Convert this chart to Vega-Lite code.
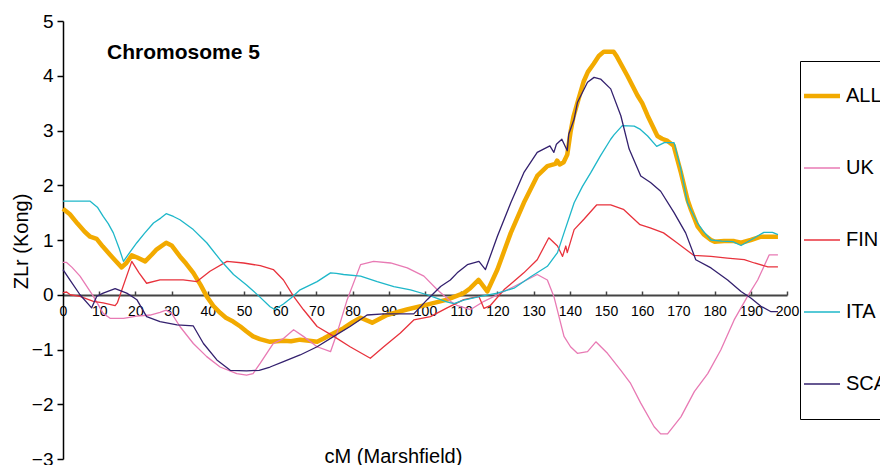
{
  "$schema": "https://vega.github.io/schema/vega-lite/v6.json",
  "autosize": "none",
  "width": 724,
  "height": 438,
  "padding": {"left": 63, "top": 21, "right": 93, "bottom": 6},
  "background": "white",
  "config": {"view": {"stroke": null}, "font": "Liberation Sans"},
  "title": {"text": "Chromosome 5", "anchor": "start", "frame": "group", "fontSize": 21, "fontWeight": "bold", "font": "Liberation Sans", "color": "black", "baseline": "alphabetic", "offset": 0, "dx": 44, "dy": 68},
  "data": {"values": [
    {"s":"ALL","x":0,"y":1.57},{"s":"ALL","x":1.9,"y":1.47},{"s":"ALL","x":4,"y":1.3},{"s":"ALL","x":6,"y":1.15},{"s":"ALL","x":7.5,"y":1.06},{"s":"ALL","x":9.3,"y":1.02},{"s":"ALL","x":11,"y":0.88},{"s":"ALL","x":13,"y":0.73},{"s":"ALL","x":14.5,"y":0.62},{"s":"ALL","x":16.2,"y":0.5},{"s":"ALL","x":17.5,"y":0.58},{"s":"ALL","x":19,"y":0.72},{"s":"ALL","x":20.5,"y":0.68},{"s":"ALL","x":22.7,"y":0.61},{"s":"ALL","x":24.5,"y":0.73},{"s":"ALL","x":25.9,"y":0.83},{"s":"ALL","x":28.5,"y":0.95},{"s":"ALL","x":30,"y":0.9},{"s":"ALL","x":32.3,"y":0.7},{"s":"ALL","x":34,"y":0.57},{"s":"ALL","x":36,"y":0.4},{"s":"ALL","x":38,"y":0.18},{"s":"ALL","x":39.7,"y":-0.03},{"s":"ALL","x":41.5,"y":-0.2},{"s":"ALL","x":43.4,"y":-0.33},{"s":"ALL","x":45,"y":-0.42},{"s":"ALL","x":47,"y":-0.49},{"s":"ALL","x":49,"y":-0.58},{"s":"ALL","x":50.7,"y":-0.67},{"s":"ALL","x":52.5,"y":-0.76},{"s":"ALL","x":54.4,"y":-0.81},{"s":"ALL","x":57.2,"y":-0.86},{"s":"ALL","x":60.9,"y":-0.84},{"s":"ALL","x":63,"y":-0.85},{"s":"ALL","x":65.5,"y":-0.82},{"s":"ALL","x":68,"y":-0.84},{"s":"ALL","x":70.2,"y":-0.86},{"s":"ALL","x":72,"y":-0.8},{"s":"ALL","x":73.9,"y":-0.73},{"s":"ALL","x":77.5,"y":-0.61},{"s":"ALL","x":80,"y":-0.5},{"s":"ALL","x":82.2,"y":-0.42},{"s":"ALL","x":85.4,"y":-0.51},{"s":"ALL","x":89.5,"y":-0.37},{"s":"ALL","x":95,"y":-0.27},{"s":"ALL","x":100.6,"y":-0.18},{"s":"ALL","x":106.1,"y":-0.09},{"s":"ALL","x":110.7,"y":0.03},{"s":"ALL","x":112.5,"y":0.12},{"s":"ALL","x":114.8,"y":0.27},{"s":"ALL","x":117.2,"y":0.06},{"s":"ALL","x":120,"y":0.46},{"s":"ALL","x":123.7,"y":1.13},{"s":"ALL","x":127.3,"y":1.68},{"s":"ALL","x":131,"y":2.17},{"s":"ALL","x":133.8,"y":2.35},{"s":"ALL","x":136,"y":2.39},{"s":"ALL","x":136.5,"y":2.45},{"s":"ALL","x":137.2,"y":2.38},{"s":"ALL","x":138.3,"y":2.42},{"s":"ALL","x":139.3,"y":2.56},{"s":"ALL","x":140.2,"y":2.97},{"s":"ALL","x":141,"y":3.25},{"s":"ALL","x":142.3,"y":3.55},{"s":"ALL","x":143.8,"y":3.89},{"s":"ALL","x":145,"y":4.07},{"s":"ALL","x":146.6,"y":4.22},{"s":"ALL","x":148,"y":4.36},{"s":"ALL","x":149.4,"y":4.44},{"s":"ALL","x":152.1,"y":4.44},{"s":"ALL","x":153,"y":4.35},{"s":"ALL","x":155.9,"y":4.0},{"s":"ALL","x":158.7,"y":3.64},{"s":"ALL","x":160,"y":3.5},{"s":"ALL","x":161.5,"y":3.27},{"s":"ALL","x":164.2,"y":2.9},{"s":"ALL","x":165.5,"y":2.85},{"s":"ALL","x":167,"y":2.81},{"s":"ALL","x":168.7,"y":2.72},{"s":"ALL","x":170.7,"y":2.23},{"s":"ALL","x":172.5,"y":1.74},{"s":"ALL","x":173.5,"y":1.55},{"s":"ALL","x":175.3,"y":1.25},{"s":"ALL","x":177,"y":1.1},{"s":"ALL","x":179,"y":1.0},{"s":"ALL","x":180,"y":0.97},{"s":"ALL","x":182.6,"y":0.98},{"s":"ALL","x":185.4,"y":0.98},{"s":"ALL","x":187.3,"y":0.95},{"s":"ALL","x":190,"y":1.0},{"s":"ALL","x":192.8,"y":1.06},{"s":"ALL","x":197.5,"y":1.06},

    {"s":"UK","x":0,"y":0.59},{"s":"UK","x":1,"y":0.59},{"s":"UK","x":2.5,"y":0.5},{"s":"UK","x":4.7,"y":0.34},{"s":"UK","x":8.4,"y":-0.03},{"s":"UK","x":11.1,"y":-0.34},{"s":"UK","x":13,"y":-0.43},{"s":"UK","x":16.7,"y":-0.43},{"s":"UK","x":20.4,"y":-0.39},{"s":"UK","x":24.1,"y":-0.37},{"s":"UK","x":26.8,"y":-0.32},{"s":"UK","x":28.5,"y":-0.28},{"s":"UK","x":30,"y":-0.34},{"s":"UK","x":32.3,"y":-0.58},{"s":"UK","x":36,"y":-0.89},{"s":"UK","x":39.7,"y":-1.13},{"s":"UK","x":43.4,"y":-1.32},{"s":"UK","x":48,"y":-1.44},{"s":"UK","x":50.7,"y":-1.47},{"s":"UK","x":52.5,"y":-1.44},{"s":"UK","x":54.5,"y":-1.25},{"s":"UK","x":58.1,"y":-0.89},{"s":"UK","x":60.9,"y":-0.8},{"s":"UK","x":63.7,"y":-0.64},{"s":"UK","x":66.4,"y":-0.76},{"s":"UK","x":70.2,"y":-0.95},{"s":"UK","x":73.9,"y":-1.04},{"s":"UK","x":75.7,"y":-0.7},{"s":"UK","x":78.5,"y":-0.09},{"s":"UK","x":82.2,"y":0.55},{"s":"UK","x":85.8,"y":0.61},{"s":"UK","x":90.5,"y":0.58},{"s":"UK","x":95.1,"y":0.49},{"s":"UK","x":99.7,"y":0.34},{"s":"UK","x":103.4,"y":0.09},{"s":"UK","x":107,"y":-0.12},{"s":"UK","x":109,"y":-0.2},{"s":"UK","x":112.6,"y":-0.27},{"s":"UK","x":116.3,"y":-0.12},{"s":"UK","x":120,"y":0.0},{"s":"UK","x":124.6,"y":0.15},{"s":"UK","x":131,"y":0.37},{"s":"UK","x":133.8,"y":0.27},{"s":"UK","x":135.6,"y":-0.03},{"s":"UK","x":138.4,"y":-0.76},{"s":"UK","x":140.2,"y":-0.95},{"s":"UK","x":142.1,"y":-1.07},{"s":"UK","x":144.9,"y":-1.04},{"s":"UK","x":147.2,"y":-0.86},{"s":"UK","x":150.4,"y":-1.07},{"s":"UK","x":154.1,"y":-1.38},{"s":"UK","x":156.8,"y":-1.62},{"s":"UK","x":159.6,"y":-1.98},{"s":"UK","x":163.3,"y":-2.41},{"s":"UK","x":165.1,"y":-2.54},{"s":"UK","x":167,"y":-2.54},{"s":"UK","x":170.7,"y":-2.23},{"s":"UK","x":174.4,"y":-1.77},{"s":"UK","x":178.1,"y":-1.44},{"s":"UK","x":181.7,"y":-1.01},{"s":"UK","x":185.4,"y":-0.46},{"s":"UK","x":189.1,"y":-0.03},{"s":"UK","x":191.9,"y":0.27},{"s":"UK","x":195.1,"y":0.73},{"s":"UK","x":197.5,"y":0.73},

    {"s":"FIN","x":0,"y":0.04},{"s":"FIN","x":1,"y":0.05},{"s":"FIN","x":2,"y":0.0},{"s":"FIN","x":4.7,"y":-0.03},{"s":"FIN","x":8.4,"y":-0.12},{"s":"FIN","x":11.1,"y":-0.15},{"s":"FIN","x":14.4,"y":-0.2},{"s":"FIN","x":15,"y":-0.15},{"s":"FIN","x":19,"y":0.61},{"s":"FIN","x":21,"y":0.4},{"s":"FIN","x":23.1,"y":0.21},{"s":"FIN","x":26.8,"y":0.27},{"s":"FIN","x":33.2,"y":0.27},{"s":"FIN","x":37,"y":0.24},{"s":"FIN","x":40.6,"y":0.43},{"s":"FIN","x":45.3,"y":0.61},{"s":"FIN","x":49.9,"y":0.58},{"s":"FIN","x":54.5,"y":0.53},{"s":"FIN","x":58.1,"y":0.46},{"s":"FIN","x":60.9,"y":0.27},{"s":"FIN","x":63.7,"y":-0.03},{"s":"FIN","x":66.4,"y":-0.27},{"s":"FIN","x":70.2,"y":-0.58},{"s":"FIN","x":74.8,"y":-0.76},{"s":"FIN","x":79.3,"y":-0.95},{"s":"FIN","x":84.9,"y":-1.16},{"s":"FIN","x":88.6,"y":-0.95},{"s":"FIN","x":93.2,"y":-0.7},{"s":"FIN","x":96.9,"y":-0.46},{"s":"FIN","x":101.5,"y":-0.4},{"s":"FIN","x":106.1,"y":-0.24},{"s":"FIN","x":110.7,"y":-0.09},{"s":"FIN","x":114.9,"y":-0.03},{"s":"FIN","x":116.3,"y":-0.25},{"s":"FIN","x":118,"y":-0.2},{"s":"FIN","x":121.8,"y":0.09},{"s":"FIN","x":127.3,"y":0.4},{"s":"FIN","x":131,"y":0.64},{"s":"FIN","x":134.2,"y":1.04},{"s":"FIN","x":136.6,"y":0.89},{"s":"FIN","x":138,"y":0.7},{"s":"FIN","x":138.9,"y":0.89},{"s":"FIN","x":139.3,"y":0.77},{"s":"FIN","x":141.2,"y":1.19},{"s":"FIN","x":143.9,"y":1.38},{"s":"FIN","x":147.4,"y":1.64},{"s":"FIN","x":151.3,"y":1.64},{"s":"FIN","x":154.8,"y":1.56},{"s":"FIN","x":159.4,"y":1.28},{"s":"FIN","x":162.2,"y":1.22},{"s":"FIN","x":165.9,"y":1.13},{"s":"FIN","x":169.6,"y":0.95},{"s":"FIN","x":174.2,"y":0.72},{"s":"FIN","x":179,"y":0.7},{"s":"FIN","x":183.5,"y":0.67},{"s":"FIN","x":188.2,"y":0.64},{"s":"FIN","x":191,"y":0.58},{"s":"FIN","x":194.7,"y":0.51},{"s":"FIN","x":197.5,"y":0.51},

    {"s":"ITA","x":0,"y":1.71},{"s":"ITA","x":7.5,"y":1.71},{"s":"ITA","x":9.5,"y":1.6},{"s":"ITA","x":11.1,"y":1.43},{"s":"ITA","x":12.5,"y":1.3},{"s":"ITA","x":13.9,"y":1.13},{"s":"ITA","x":15.5,"y":0.85},{"s":"ITA","x":16.7,"y":0.61},{"s":"ITA","x":18.5,"y":0.78},{"s":"ITA","x":20.4,"y":0.95},{"s":"ITA","x":22.5,"y":1.12},{"s":"ITA","x":25,"y":1.31},{"s":"ITA","x":27,"y":1.4},{"s":"ITA","x":28.5,"y":1.48},{"s":"ITA","x":30.5,"y":1.43},{"s":"ITA","x":32.3,"y":1.37},{"s":"ITA","x":36,"y":1.19},{"s":"ITA","x":39.7,"y":0.95},{"s":"ITA","x":43.4,"y":0.64},{"s":"ITA","x":47.1,"y":0.37},{"s":"ITA","x":50.7,"y":0.18},{"s":"ITA","x":54.2,"y":-0.03},{"s":"ITA","x":57.2,"y":-0.22},{"s":"ITA","x":58.5,"y":-0.27},{"s":"ITA","x":60.9,"y":-0.17},{"s":"ITA","x":63,"y":-0.06},{"s":"ITA","x":65.5,"y":0.09},{"s":"ITA","x":70.2,"y":0.24},{"s":"ITA","x":73.9,"y":0.4},{"s":"ITA","x":75.5,"y":0.39},{"s":"ITA","x":77.5,"y":0.37},{"s":"ITA","x":82.2,"y":0.34},{"s":"ITA","x":86.8,"y":0.24},{"s":"ITA","x":91.4,"y":0.15},{"s":"ITA","x":96,"y":0.09},{"s":"ITA","x":100.6,"y":0.0},{"s":"ITA","x":104.3,"y":-0.09},{"s":"ITA","x":106,"y":-0.13},{"s":"ITA","x":108,"y":-0.16},{"s":"ITA","x":110.7,"y":-0.1},{"s":"ITA","x":115.3,"y":-0.03},{"s":"ITA","x":120,"y":0.03},{"s":"ITA","x":124.6,"y":0.12},{"s":"ITA","x":129.2,"y":0.33},{"s":"ITA","x":133.8,"y":0.52},{"s":"ITA","x":136.6,"y":0.77},{"s":"ITA","x":138.4,"y":1.13},{"s":"ITA","x":141.2,"y":1.68},{"s":"ITA","x":143.5,"y":1.98},{"s":"ITA","x":145.8,"y":2.23},{"s":"ITA","x":148.5,"y":2.54},{"s":"ITA","x":151.3,"y":2.84},{"s":"ITA","x":152.2,"y":2.92},{"s":"ITA","x":154.5,"y":3.09},{"s":"ITA","x":157.8,"y":3.08},{"s":"ITA","x":159.5,"y":3.02},{"s":"ITA","x":161.5,"y":2.9},{"s":"ITA","x":164,"y":2.71},{"s":"ITA","x":166.1,"y":2.78},{"s":"ITA","x":168.8,"y":2.78},{"s":"ITA","x":170.7,"y":2.29},{"s":"ITA","x":172.5,"y":1.68},{"s":"ITA","x":175.3,"y":1.31},{"s":"ITA","x":177,"y":1.15},{"s":"ITA","x":179,"y":1.0},{"s":"ITA","x":182,"y":0.98},{"s":"ITA","x":185,"y":0.97},{"s":"ITA","x":187.3,"y":0.9},{"s":"ITA","x":190,"y":1.0},{"s":"ITA","x":193.6,"y":1.14},{"s":"ITA","x":196,"y":1.14},{"s":"ITA","x":197.5,"y":1.1},

    {"s":"SCA","x":0,"y":0.46},{"s":"SCA","x":1.9,"y":0.27},{"s":"SCA","x":4.7,"y":0.0},{"s":"SCA","x":7.9,"y":-0.24},{"s":"SCA","x":9.3,"y":-0.03},{"s":"SCA","x":11.1,"y":0.03},{"s":"SCA","x":14.4,"y":0.11},{"s":"SCA","x":17.6,"y":0.03},{"s":"SCA","x":19.5,"y":-0.05},{"s":"SCA","x":20.4,"y":-0.09},{"s":"SCA","x":23.1,"y":-0.4},{"s":"SCA","x":26.8,"y":-0.49},{"s":"SCA","x":31.5,"y":-0.55},{"s":"SCA","x":36,"y":-0.57},{"s":"SCA","x":38.8,"y":-0.89},{"s":"SCA","x":42.5,"y":-1.19},{"s":"SCA","x":46.2,"y":-1.38},{"s":"SCA","x":50.7,"y":-1.39},{"s":"SCA","x":54.2,"y":-1.38},{"s":"SCA","x":57.2,"y":-1.32},{"s":"SCA","x":60.9,"y":-1.22},{"s":"SCA","x":65.5,"y":-1.1},{"s":"SCA","x":70.2,"y":-0.95},{"s":"SCA","x":74.8,"y":-0.76},{"s":"SCA","x":79.3,"y":-0.58},{"s":"SCA","x":84,"y":-0.37},{"s":"SCA","x":88.6,"y":-0.35},{"s":"SCA","x":96.9,"y":-0.35},{"s":"SCA","x":100.6,"y":-0.09},{"s":"SCA","x":104.3,"y":0.15},{"s":"SCA","x":107,"y":0.27},{"s":"SCA","x":108.9,"y":0.4},{"s":"SCA","x":111.7,"y":0.55},{"s":"SCA","x":114.9,"y":0.61},{"s":"SCA","x":116.7,"y":0.46},{"s":"SCA","x":120,"y":1.07},{"s":"SCA","x":123.7,"y":1.68},{"s":"SCA","x":127.3,"y":2.23},{"s":"SCA","x":131,"y":2.6},{"s":"SCA","x":134.5,"y":2.72},{"s":"SCA","x":135.6,"y":2.6},{"s":"SCA","x":136.3,"y":2.75},{"s":"SCA","x":137.8,"y":2.84},{"s":"SCA","x":139.3,"y":2.63},{"s":"SCA","x":139.7,"y":2.93},{"s":"SCA","x":141.2,"y":3.21},{"s":"SCA","x":142.1,"y":3.51},{"s":"SCA","x":144.9,"y":3.88},{"s":"SCA","x":146.7,"y":3.97},{"s":"SCA","x":148.5,"y":3.94},{"s":"SCA","x":151.3,"y":3.76},{"s":"SCA","x":154.1,"y":3.27},{"s":"SCA","x":156.4,"y":2.66},{"s":"SCA","x":159.6,"y":2.17},{"s":"SCA","x":162.3,"y":2.05},{"s":"SCA","x":165.1,"y":1.89},{"s":"SCA","x":168.8,"y":1.5},{"s":"SCA","x":172,"y":1.13},{"s":"SCA","x":174.8,"y":0.64},{"s":"SCA","x":179,"y":0.49},{"s":"SCA","x":183.6,"y":0.27},{"s":"SCA","x":187.3,"y":0.06},{"s":"SCA","x":190,"y":-0.06},{"s":"SCA","x":192.8,"y":-0.21},{"s":"SCA","x":195.6,"y":-0.31},{"s":"SCA","x":197.5,"y":-0.31}
  ]},
  "encoding": {
    "x": {"field": "x", "type": "quantitative",
      "scale": {"domain": [0, 200], "nice": false},
      "axis": {"values": [0,10,20,30,40,50,60,70,80,90,100,110,120,130,140,150,160,170,180,190,200],
        "offset": -164, "grid": false, "domainColor": "#444", "domainWidth": 2, "tickColor": "#444", "tickWidth": 1.5, "tickSize": -4,
        "labelPadding": 13, "labelFontSize": 14, "labelColor": "black", "labelFont": "Liberation Sans", "labelFlush": false, "labelOverlap": false,
        "title": "cM (Marshfield)", "titleFontSize": 20, "titleFontWeight": "normal", "titleColor": "black", "titleFont": "Liberation Sans",
        "titleX": 330, "titleY": 167, "titleBaseline": "alphabetic"}},
    "y": {"field": "y", "type": "quantitative",
      "scale": {"domain": [-3, 5], "nice": false, "zero": false},
      "axis": {"values": [-3,-2,-1,0,1,2,3,4,5], "grid": false, "domainColor": "black", "domainWidth": 1.5, "tickColor": "black", "tickWidth": 1.5, "tickSize": 6,
        "labelPadding": 4, "labelFontSize": 19, "labelColor": "black", "labelFont": "Liberation Sans",
        "title": "ZLr (Kong)", "titleFontSize": 20, "titleFontWeight": "normal", "titleColor": "black", "titleFont": "Liberation Sans",
        "titleX": -36, "titleY": 220, "titleAngle": -90, "titleBaseline": "alphabetic", "titleAlign": "center"}},
    "color": {"field": "s", "type": "nominal",
      "scale": {"domain": ["ALL","UK","FIN","ITA","SCA"], "range": ["#F2AA00","#E87AB4","#E8323C","#1EB7C9","#33206E"]},
      "legend": {"title": null,
        "orient": "none", "legendX": 737, "legendY": 40, "strokeColor": "black", "padding": 25,
        "symbolType": "stroke", "symbolSize": 1296, "symbolOffset": -13, "rowPadding": 52, "labelFontSize": 20, "labelFont": "Liberation Sans", "labelColor": "black", "labelOffset": 14, "fillColor": "white",
        "encode": {"symbols": {"update": {"strokeWidth": {"signal": "datum.value === 'ALL' ? 4.5 : 1.3"}}}}}}
  },
  "layer": [
    {"transform": [{"filter": "datum.s === 'ALL'"}], "mark": {"type": "line", "strokeJoin": "round", "strokeWidth": 4.5}},
    {"transform": [{"filter": "datum.s !== 'ALL'"}], "mark": {"type": "line", "strokeJoin": "round", "strokeWidth": 1.3}}
  ]
}
